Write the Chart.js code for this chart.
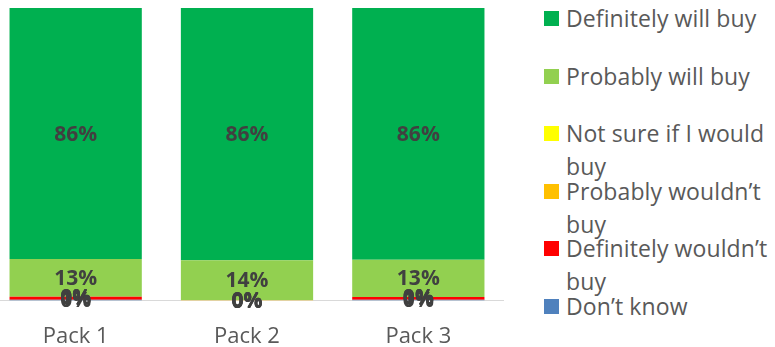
<!DOCTYPE html>
<html>
<head>
<meta charset="utf-8">
<script src="https://cdn.jsdelivr.net/npm/chart.js@4"></script>
<style>
  body { margin: 0; background: #fff; font-family: "Open Sans", sans-serif; }
  #wrap { position: relative; width: 775px; height: 347px; overflow: hidden; }
  #chartBox { position: absolute; left: -10px; top: 0; width: 514px; height: 373px; }
  #legend { position: absolute; left: 544px; top: 0; width: 231px; }
  .item { position: absolute; left: 0; width: 231px; }
  .sw { position: absolute; left: 0; width: 15px; height: 15px; }
  .txt { position: absolute; left: 22px; color: #595959; font-size: 23px; line-height: 33px; white-space: nowrap; letter-spacing: 0.1px; }
</style>
</head>
<body>
<div id="wrap">
  <div id="chartBox"><canvas id="chart"></canvas></div>
  <div id="legend"></div>
</div>
<script>
// categories
const packs = ["Pack 1", "Pack 2", "Pack 3"];

// series values (percent of respondents), bottom to top of the stack
const dontKnow = [0.3, 0, 0.3];
const definitelyWouldnt = [1.0, 0, 0.9];
const probablyWouldnt = [0, 0.2, 0];
const notSure = [0, 0, 0];
const probablyWill = [12.9, 13.6, 12.8];
const definitelyWill = [85.8, 86.2, 86.0];

const seriesNames = ["Don\u2019t know", "Definitely wouldn\u2019t buy", "Probably wouldn\u2019t buy",
  "Not sure if I would buy", "Probably will buy", "Definitely will buy"];
const seriesColors = ["#4f81bd", "#ff0000", "#ffc000", "#ffff00", "#92d050", "#00b050"];
const seriesData = [dontKnow, definitelyWouldnt, probablyWouldnt, notSure, probablyWill, definitelyWill];

// legend lines, top to bottom
const legendLines = [
  ["Definitely will buy"],
  ["Probably will buy"],
  ["Not sure if I would", "buy"],
  ["Probably wouldn\u2019t", "buy"],
  ["Definitely wouldn\u2019t", "buy"],
  ["Don\u2019t know"]
];

const datasets = seriesData.map((d, i) => ({
  label: seriesNames[i],
  data: d,
  backgroundColor: seriesColors[i],
  borderWidth: 0,
  barPercentage: 0.772,
  categoryPercentage: 1
}));

// draw the value labels in the middle of each segment
const valueLabels = {
  id: "valueLabels",
  afterDatasetsDraw(chart) {
    const ctx = chart.ctx;
    ctx.save();
    ctx.font = "bold 21px 'Open Sans'";
    ctx.fillStyle = "#404040";
    ctx.textAlign = "center";
    ctx.textBaseline = "middle";
    chart.data.datasets.forEach((ds, i) => {
      chart.getDatasetMeta(i).data.forEach((bar, j) => {
        const y = (bar.y + bar.base) / 2 + 1;
        ctx.fillText(Math.round(ds.data[j]) + "%", bar.x, y);
      });
    });
    ctx.restore();
  }
};

new Chart(document.getElementById("chart"), {
  type: "bar",
  data: { labels: packs, datasets: datasets },
  options: {
    responsive: true,
    maintainAspectRatio: false,
    animation: false,
    layout: { padding: { top: 8, left: 0, right: 0, bottom: 0 } },
    plugins: { legend: { display: false }, tooltip: { enabled: false } },
    scales: {
      x: {
        stacked: true,
        grid: { display: false, drawTicks: false },
        border: { color: "#d9d9d9", width: 1 },
        ticks: { color: "#595959", font: { family: "Open Sans", size: 22 }, padding: 23, maxRotation: 0, minRotation: 0 }
      },
      y: {
        stacked: true,
        display: false,
        min: 0,
        max: 100
      }
    }
  },
  plugins: [valueLabels]
});

// html legend
const legend = document.getElementById("legend");
const legendColors = seriesColors.slice().reverse();
legendLines.forEach((lines, i) => {
  const top = 4 + i * 57.5;
  const item = document.createElement("div");
  item.className = "item";
  item.style.top = top + "px";
  const sw = document.createElement("div");
  sw.className = "sw";
  sw.style.top = "7px";
  sw.style.background = legendColors[i];
  item.appendChild(sw);
  const txt = document.createElement("div");
  txt.className = "txt";
  txt.style.top = "-2px";
  txt.innerHTML = lines.join("<br>");
  item.appendChild(txt);
  legend.appendChild(item);
});
</script>
</body>
</html>
